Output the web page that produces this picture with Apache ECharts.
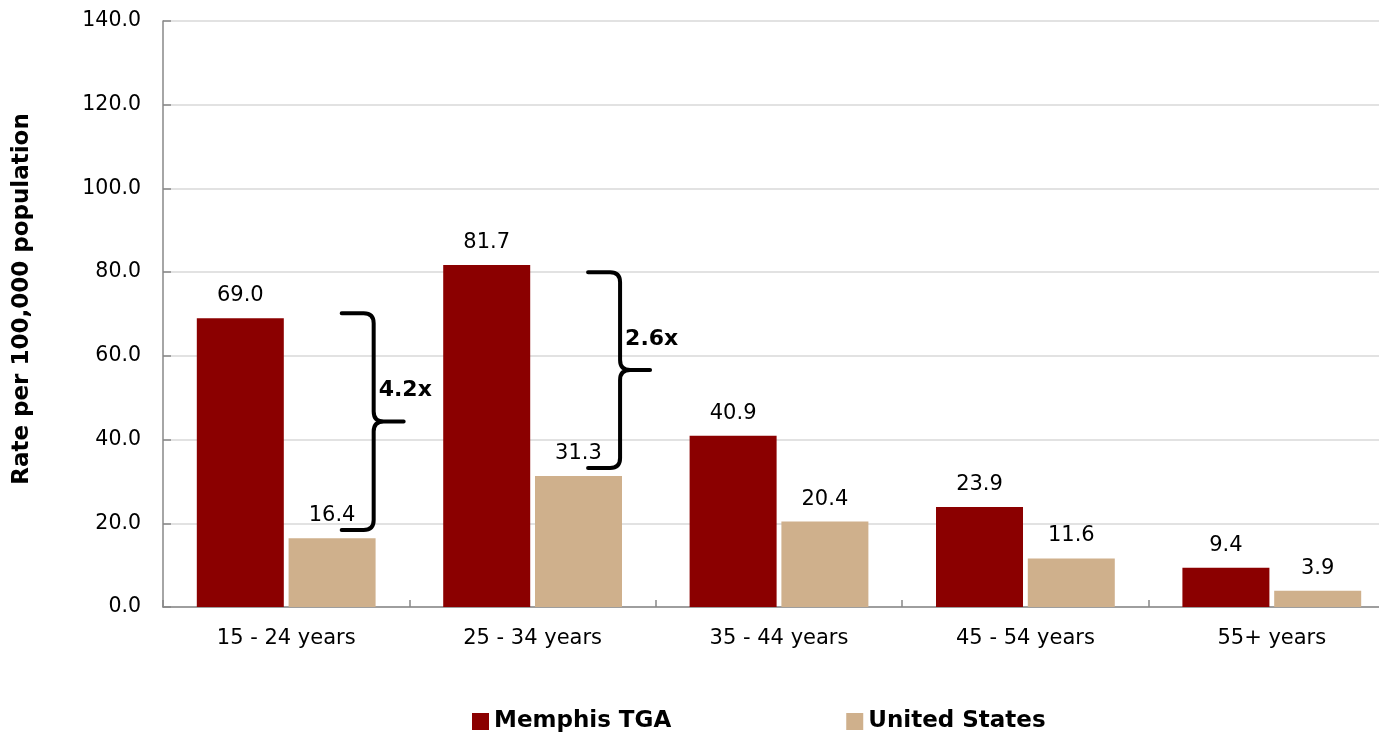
<!DOCTYPE html>
<html>
<head>
<meta charset="utf-8">
<script src="https://cdn.jsdelivr.net/npm/echarts@6/dist/echarts.min.js"></script>
<style>
html,body{margin:0;padding:0;background:#fff;}
#chart{width:1379px;height:733px;}
</style>
</head>
<body>
<div id="chart"></div>
<script>
const categories = ['15 - 24 years', '25 - 34 years', '35 - 44 years', '45 - 54 years', '55+ years'];
const memphis = [69.0, 81.7, 40.9, 23.9, 9.4];
const unitedStates = [16.4, 31.3, 20.4, 11.6, 3.9];
const yTicks = [0, 20, 40, 60, 80, 100, 120, 140];
// ratio braces: category index, top value, bottom value, label
const braceCategory = [0, 1];
const braceTop = [70.2, 80.0];
const braceBottom = [18.4, 33.2];
const braceLabels = ['4.2x', '2.6x'];

const FONT = '"DejaVu Sans", Verdana, sans-serif';
const chart = echarts.init(document.getElementById('chart'));

const braceData = braceCategory.map((c, i) => [c, braceTop[i], braceBottom[i]]);

chart.setOption({
  animation: false,
  grid: { left: 163, width: 1232, top: 21, height: 586, containLabel: false, outerBoundsMode: 'none' },
  legend: {
    data: ['Memphis TGA', 'United States'],
    left: 467, top: 705,
    icon: 'rect', itemWidth: 17, itemHeight: 17, itemGap: 175,
    textStyle: { fontFamily: FONT, fontSize: 23, fontWeight: 'bold', color: '#000' }
  },
  graphic: [{
    type: 'text', x: 22, y: 299, rotation: Math.PI / 2,
    style: { text: 'Rate per 100,000 population', font: 'bold 23px ' + FONT, fill: '#000', align: 'center', verticalAlign: 'middle' }
  }],
  xAxis: {
    type: 'category', data: categories,
    axisLine: { lineStyle: { color: '#888', width: 1.5 } },
    axisTick: { show: true, inside: true, length: 7, lineStyle: { color: '#888', width: 1.5 } },
    axisLabel: { fontFamily: FONT, fontSize: 21, color: '#000', margin: 21 }
  },
  yAxis: {
    type: 'value', min: yTicks[0], max: yTicks[yTicks.length - 1], interval: 20,
    axisLine: { show: true, lineStyle: { color: '#888', width: 1.5 } },
    axisTick: { show: true, inside: true, length: 8, lineStyle: { color: '#888', width: 1.5 } },
    axisLabel: { fontFamily: FONT, fontSize: 20.5, color: '#000', margin: 22, formatter: v => v.toFixed(1) },
    splitLine: { lineStyle: { color: '#d9d9d9', width: 1.5 } }
  },
  series: [
    {
      name: 'Memphis TGA', type: 'bar', data: memphis, barWidth: 87, barGap: '5.5%',
      itemStyle: { color: '#8b0000' },
      label: { show: true, position: 'top', distance: 12, fontFamily: FONT, fontSize: 21, color: '#000', formatter: p => p.value.toFixed(1) }
    },
    {
      name: 'United States', type: 'bar', data: unitedStates, barWidth: 87, barGap: '5.5%',
      itemStyle: { color: '#cfb08c' },
      label: { show: true, position: 'top', distance: 12, fontFamily: FONT, fontSize: 21, color: '#000', formatter: p => p.value.toFixed(1) }
    },
    {
      name: 'braces', type: 'custom', data: braceData, z: 10,
      encode: { x: 0, y: [1, 2] },
      renderItem: function (params, api) {
        const i = params.dataIndex;
        const p1 = api.coord([api.value(0), api.value(1)]);
        const p2 = api.coord([api.value(0), api.value(2)]);
        const band = api.size([1, 0])[0];
        const vx = p1[0] + band * 0.355;
        const top = p1[1], bot = p2[1], mid = (top + bot) / 2;
        const L = 32, T = 30, r = 10;
        const d = `M${vx - L},${top} L${vx - r},${top} Q${vx},${top} ${vx},${top + r} L${vx},${mid - r} Q${vx},${mid} ${vx + r},${mid} L${vx + T},${mid} M${vx + r},${mid} Q${vx},${mid} ${vx},${mid + r} L${vx},${bot - r} Q${vx},${bot} ${vx - r},${bot} L${vx - L},${bot}`;
        return {
          type: 'group',
          children: [
            {
              type: 'path',
              shape: { pathData: d, x: vx - L, y: top, width: L + T, height: bot - top, layout: 'cover' },
              style: { stroke: '#000', lineWidth: 4, fill: null, lineCap: 'round', lineJoin: 'round' }
            },
            {
              type: 'text',
              x: vx + 5, y: mid - 31,
              style: { text: braceLabels[i], font: 'bold 22px ' + FONT, fill: '#000', align: 'left', verticalAlign: 'middle' }
            }
          ]
        };
      }
    }
  ]
});
</script>
</body>
</html>
